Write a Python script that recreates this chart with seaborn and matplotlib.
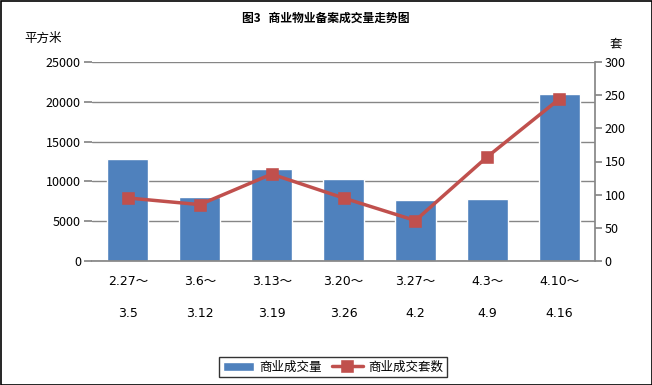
import matplotlib
matplotlib.use("Agg")
import matplotlib.pyplot as plt
import seaborn as sns
import pandas as pd
from matplotlib.patches import Rectangle

periods_start = ["2.27～", "3.6～", "3.13～", "3.20～", "3.27～", "4.3～", "4.10～"]
periods_end = ["3.5", "3.12", "3.19", "3.26", "4.2", "4.9", "4.16"]
area = [12860, 8070, 11600, 10340, 7690, 7820, 20930]
units = [95, 85, 131, 95, 61, 157, 244]

labels = [f"{a}\n{b}" for a, b in zip(periods_start, periods_end)]
df = pd.DataFrame({"period": labels, "area": area, "units": units})

sns.set_theme(style="white")
plt.rcParams["font.family"] = ["Noto Sans CJK SC", "DejaVu Sans"]
plt.rcParams["axes.unicode_minus"] = False
plt.rcParams["text.color"] = "black"
plt.rcParams["xtick.color"] = "black"
plt.rcParams["ytick.color"] = "black"
plt.rcParams["axes.labelcolor"] = "black"

fig = plt.figure(figsize=(6.52, 3.85), dpi=100)
ax = fig.add_axes([92/652, 1-261/385, (595-92)/652, (261-62)/385])

bar_color = "#4F81BD"
line_color = "#C0504D"
grid_color = "#868686"

sns.barplot(data=df, x="period", y="area", color=bar_color, width=0.57,
            saturation=1, ax=ax, label="商业成交量")
ax.set_ylim(0, 25000)
ax.set_xlim(-0.5, 6.5)
ax.set_yticks(range(0, 25001, 5000))
ax.yaxis.grid(True, color=grid_color, linewidth=1)
ax.set_axisbelow(True)
ax.set_xlabel("")
ax.set_ylabel("")
for s in ["top", "right", "left"]:
    ax.spines[s].set_visible(False)
ax.spines["bottom"].set_color(grid_color)
ax.tick_params(axis="y", which="both", left=True, length=6, color=grid_color,
               labelcolor="black", labelsize=9, pad=2)
ax.tick_params(axis="x", length=0, labelsize=9, pad=10, labelcolor="black")
ax.set_xticks(range(len(labels)))
ax.set_xticklabels(labels, linespacing=2.9, family=["DejaVu Sans", "Noto Sans CJK SC"])

ax2 = ax.twinx()
sns.pointplot(data=df, x="period", y="units", color=line_color, markers="s",
              linestyles="-", ax=ax2, label="商业成交套数", markersize=7,
              linewidth=2.5)
ax2.set_ylim(0, 300)
ax2.set_xlim(-0.5, 6.5)
ax2.set_yticks(range(0, 301, 50))
ax2.set_ylabel("")
ax2.set_xlabel("")
for s in ["top", "left", "bottom"]:
    ax2.spines[s].set_visible(False)
ax2.spines["right"].set_color(grid_color)
ax2.tick_params(axis="y", right=True, length=5, color=grid_color,
                labelcolor="black", labelsize=9, pad=2)

fig.text(0.5, 1-18/385, "图3   商业物业备案成交量走势图", ha="center", va="center",
         fontsize=8.5, fontweight="bold", color="black")
fig.text(24/652, 1-38/385, "平方米", ha="left", va="center", fontsize=9, color="black")
fig.text(616/652, 1-44/385, "套", ha="center", va="center", fontsize=9, color="black")

h1, l1 = ax.get_legend_handles_labels()
h2, l2 = ax2.get_legend_handles_labels()
if ax2.get_legend():
    ax2.get_legend().remove()
if ax.get_legend():
    ax.get_legend().remove()
leg = fig.legend(h1 + h2, l1 + l2, loc="center", bbox_to_anchor=(333/652, 1-367/385),
                 ncol=2, frameon=True, fancybox=False, fontsize=9,
                 handlelength=2.5, columnspacing=0.8, handletextpad=0.4,
                 borderpad=0.3, edgecolor="black")
leg.get_frame().set_linewidth(1)
for t in leg.get_texts():
    t.set_color("black")

fig.patches.append(Rectangle((0.5/652, 0.5/385), 1-1/652, 1-1/385,
                             transform=fig.transFigure, fill=False,
                             edgecolor="black", linewidth=1.2))

fig.savefig("out.png", dpi=100)
